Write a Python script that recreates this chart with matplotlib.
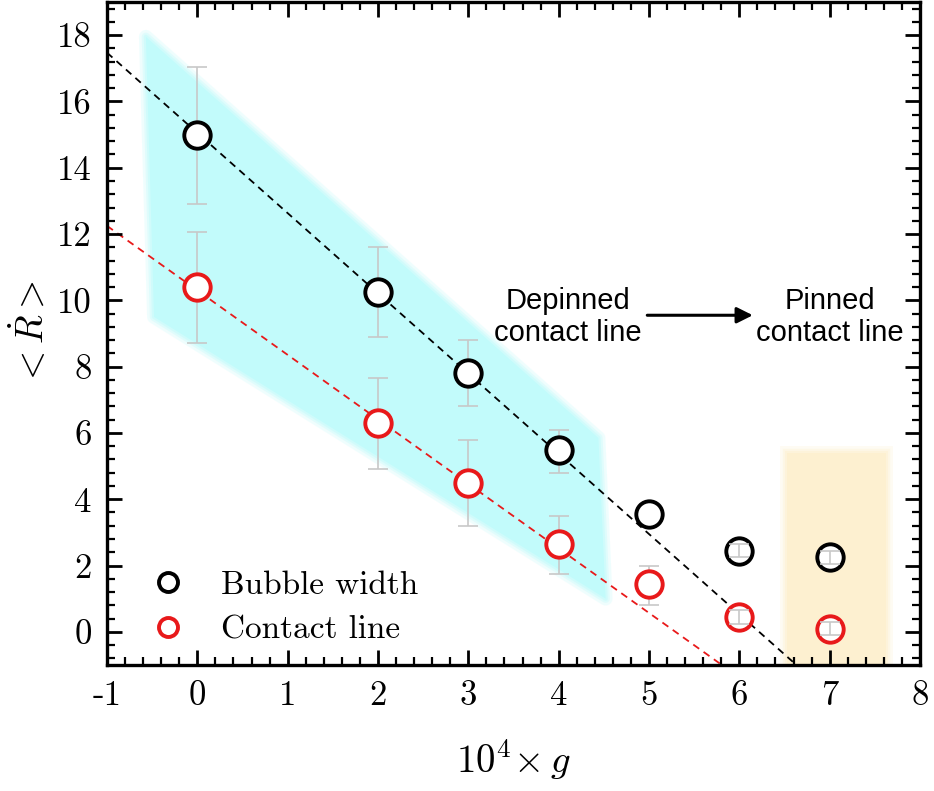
import numpy as np
import matplotlib.pyplot as plt
from matplotlib.ticker import MultipleLocator

plt.rcParams['mathtext.fontset'] = 'cm'
plt.rcParams['font.family'] = 'serif'
plt.rcParams['font.serif'] = ['cmr10', 'DejaVu Serif']
plt.rcParams['axes.formatter.use_mathtext'] = True

# data
g = [0, 2, 3, 4, 5, 6, 7]
bubble = [15.0, 10.25, 7.8, 5.5, 3.55, 2.45, 2.25]
bubble_lo = [2.1, 1.35, 1.0, 0.7, 0.3, 0.2, 0.2]
bubble_hi = [2.05, 1.35, 1.0, 0.6, 0.3, 0.2, 0.2]
contact = [10.4, 6.3, 4.5, 2.65, 1.45, 0.45, 0.1]
contact_lo = [1.7, 1.4, 1.3, 0.9, 0.65, 0.2, 0.2]
contact_hi = [1.65, 1.35, 1.3, 0.85, 0.55, 0.2, 0.2]

# linear fits drawn as dashed lines
bubble_fit = (15.05, -2.42)
contact_fit = (10.30, -1.946)

# shaded regions
cyan_x = [-0.57, 4.44, 4.52, -0.48]
cyan_y = [17.95, 5.85, 1.0, 9.5]
pinned_x = (6.53, 7.62)
pinned_y = (-1, 5.4)

xticks = [-1, 0, 1, 2, 3, 4, 5, 6, 7, 8]
yticks = [0, 2, 4, 6, 8, 10, 12, 14, 16, 18]

fig = plt.figure(figsize=(9.34, 7.91), dpi=100)
ax = fig.add_axes([0.1146, 0.1593, 0.8704, 0.8382])

# soft (blurred looking) edges: stack a few wider translucent outlines
for w, a in [(10, 0.25), (6, 0.35), (3, 0.5)]:
    ax.fill(cyan_x, cyan_y, facecolor='none', edgecolor='#c2fbfb', lw=w, alpha=a,
            joinstyle='round', zorder=0)
    ax.fill([pinned_x[0], pinned_x[1], pinned_x[1], pinned_x[0]],
            [pinned_y[0], pinned_y[0], pinned_y[1], pinned_y[1]],
            facecolor='none', edgecolor='#fdf0d0', lw=w, alpha=a, zorder=0)
ax.fill(cyan_x, cyan_y, color='#c2fbfb', lw=0, zorder=0)
ax.fill_between(pinned_x, pinned_y[0], pinned_y[1], color='#fdf0d0', lw=0, zorder=0)

xx = np.array([-1, 8])
ax.plot(xx, bubble_fit[0] + bubble_fit[1] * xx, '--', color='k', lw=1.3, dashes=(4, 3), zorder=1)
ax.plot(xx, contact_fit[0] + contact_fit[1] * xx, '--', color='#e8191a', lw=1.3, dashes=(4, 3), zorder=1)

# big error bars sit behind markers, small ones on top
for vals, lo, hi in [(bubble, bubble_lo, bubble_hi), (contact, contact_lo, contact_hi)]:
    ax.errorbar(g[:5], vals[:5], yerr=[lo[:5], hi[:5]], fmt='none', ecolor='#c8c8c8',
                elinewidth=1.2, capsize=7, capthick=1.2, zorder=2)
    ax.errorbar(g[5:], vals[5:], yerr=[lo[5:], hi[5:]], fmt='none', ecolor='#c8c8c8',
                elinewidth=1.2, capsize=7, capthick=1.2, zorder=4)

ax.plot(g, bubble, 'o', ms=19, mfc='white', mec='black', mew=2.8, ls='none', zorder=3,
        label='Bubble width')
ax.plot(g, contact, 'o', ms=19, mfc='white', mec='#e8191a', mew=2.8, ls='none', zorder=3,
        label='Contact line')

ax.text(4.1, 9.5, 'Depinned\ncontact line', family='Liberation Sans', fontsize=21,
        ha='center', va='center', linespacing=1.2)
ax.text(7.0, 9.5, 'Pinned\ncontact line', family='Liberation Sans', fontsize=21,
        ha='center', va='center', linespacing=1.2)
ax.annotate('', xy=(6.18, 9.55), xytext=(4.95, 9.55),
            arrowprops=dict(arrowstyle='-|>', color='black', lw=2.2, mutation_scale=24))

ax.set_xlim(-1, 8)
ax.set_ylim(-1, 19)
ax.set_xticks(xticks)
ax.set_xticklabels([str(t) for t in xticks])
ax.set_yticks(yticks)
ax.set_yticklabels([str(t) for t in yticks])
ax.xaxis.set_minor_locator(MultipleLocator(0.2))
ax.yaxis.set_minor_locator(MultipleLocator(0.4))
ax.tick_params(which='both', direction='in', top=True, right=True, labelsize=25, width=2)
ax.tick_params(which='major', length=11, pad=11)
ax.tick_params(which='minor', length=6, width=1.6)
for s in ax.spines.values():
    s.set_linewidth(2.4)

ax.set_xlabel(r'$10^4\!\times g$', fontsize=28, labelpad=18)
ax.set_ylabel(r'$<\dot{R}>$', fontsize=27, labelpad=4)

ax.legend(loc='lower left', bbox_to_anchor=(0.01, 0.0), frameon=False, fontsize=24,
          markerscale=0.72, handletextpad=0.58, labelspacing=0.47, borderaxespad=0.2)

fig.savefig('out.png', dpi=100)
